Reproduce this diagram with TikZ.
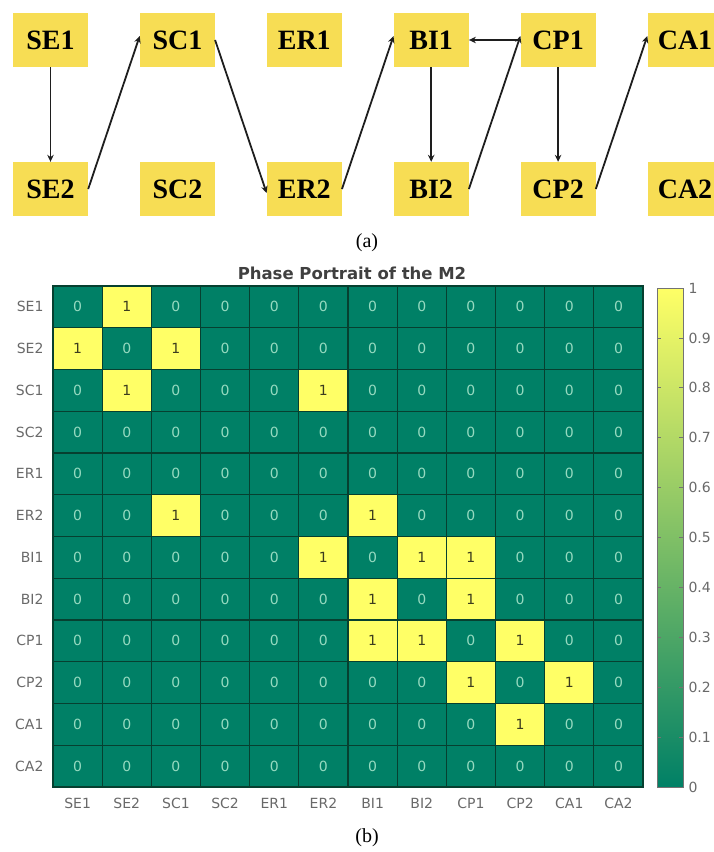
\documentclass[tikz,border=0pt]{standalone}
\usepackage{fontspec}
\setmainfont{Liberation Serif}
\newfontfamily\plotfont{DejaVu Sans}
\usetikzlibrary{arrows.meta}
\definecolor{boxyellow}{RGB}{247,221,84}
\definecolor{summerlo}{RGB}{0,128,102}
\definecolor{summerhi}{RGB}{255,255,102}
\definecolor{gridline}{RGB}{6,64,48}
\definecolor{zerotext}{RGB}{150,218,192}
\definecolor{onetext}{RGB}{60,60,30}
\definecolor{axistext}{RGB}{105,105,105}
\definecolor{arrowcol}{RGB}{30,30,30}

\begin{document}
\begin{tikzpicture}[x=1pt,y=-1pt,
  state/.style={fill=boxyellow, minimum width=75pt, minimum height=54pt,
    inner sep=0pt, font=\fontsize{28}{28}\selectfont\bfseries},
  link/.style={draw=arrowcol, line width=1.8pt,
    -{Stealth[length=7pt,width=6.5pt]}},
  caption/.style={font=\fontsize{20}{20}\selectfont},
  plottext/.style={font=\plotfont\fontsize{14}{14}\selectfont},
  ticklabel/.style={plottext, text=axistext},
]
\useasboundingbox (0,0) rectangle (714,852);
\clip (0,0) rectangle (714,852);

% ---- (a) state transition graph ----
\foreach \name [count=\i from 0] in {SE,SC,ER,BI,CP,CA} {
  \node[state] (\name1) at ({50.5+126.9*\i},40) {\name1};
  \node[state] (\name2) at ({50.5+126.9*\i},189) {\name2};
}
\draw[link] (SE1.south) -- (SE2.north);
\draw[link] (SE2.east) -- ([yshift=4pt]SC1.west);
\draw[link] (SC1.east) -- ([yshift=-4pt]ER2.west);
\draw[link] (ER2.east) -- ([yshift=4pt]BI1.west);
\draw[link] (CP1.west) -- (BI1.east);
\draw[link] (BI1.south) -- (BI2.north);
\draw[link] (BI2.east) -- ([yshift=4pt]CP1.west);
\draw[link] (CP1.south) -- (CP2.north);
\draw[link] (CP2.east) -- ([yshift=4pt]CA1.west);
\node[caption] (capa) at (367,243) {(a)};

% ---- (b) phase portrait heat map ----
\def\cw{49.17}
\def\ch{41.75}
\node[font=\plotfont\bfseries\fontsize{16.5}{16.5}\selectfont, text=black!75]
  (title) at (352,273) {Phase Portrait of the M2};
\fill[summerlo] (53,286) rectangle (643,787);
\foreach \row [count=\r from 0] in {
  {0,1,0,0,0,0,0,0,0,0,0,0},
  {1,0,1,0,0,0,0,0,0,0,0,0},
  {0,1,0,0,0,1,0,0,0,0,0,0},
  {0,0,0,0,0,0,0,0,0,0,0,0},
  {0,0,0,0,0,0,0,0,0,0,0,0},
  {0,0,1,0,0,0,1,0,0,0,0,0},
  {0,0,0,0,0,1,0,1,1,0,0,0},
  {0,0,0,0,0,0,1,0,1,0,0,0},
  {0,0,0,0,0,0,1,1,0,1,0,0},
  {0,0,0,0,0,0,0,0,1,0,1,0},
  {0,0,0,0,0,0,0,0,0,1,0,0},
  {0,0,0,0,0,0,0,0,0,0,0,0}} {
  \foreach \v [count=\c from 0] in \row {
    \ifnum\v=1
      \fill[summerhi] ({53+\c*\cw},{286+\r*\ch}) rectangle ++(\cw,\ch);
      \node[plottext, text=onetext] at ({53+(\c+0.5)*\cw},{286+(\r+0.5)*\ch}) {1};
    \else
      \node[plottext, text=zerotext] at ({53+(\c+0.5)*\cw},{286+(\r+0.5)*\ch}) {0};
    \fi
  }
}
\foreach \k in {1,...,11} {
  \draw[gridline, line width=1.1pt] ({53+\k*\cw},286) -- ({53+\k*\cw},787);
  \draw[gridline, line width=1.1pt] (53,{286+\k*\ch}) -- (643,{286+\k*\ch});
}
\draw[gridline, line width=1.1pt] (53,286) rectangle (643,787);
\foreach \lab [count=\i from 0] in {SE1,SE2,SC1,SC2,ER1,ER2,BI1,BI2,CP1,CP2,CA1,CA2} {
  \node[ticklabel, anchor=east] at (47,{286+(\i+0.5)*\ch}) {\lab};
  \node[ticklabel] at ({53+(\i+0.5)*\cw},803) {\lab};
}

% colour bar
\shade[bottom color=summerlo, top color=summerhi] (657,288) rectangle (683,787);
\draw[black!55, line width=0.7pt] (657,288) rectangle (683,787);
\foreach \v in {0,...,10} {
  \draw[black!55, line width=0.7pt] (683,{787-\v*49.9}) -- (679,{787-\v*49.9});
  \draw[black!55, line width=0.7pt] (657,{787-\v*49.9}) -- (661,{787-\v*49.9});
}
\foreach \v/\t in {0/0,1/0.1,2/0.2,3/0.3,4/0.4,5/0.5,6/0.6,7/0.7,8/0.8,9/0.9,10/1}
  \node[ticklabel, anchor=west] at (685,{787-\v*49.9}) {\t};
\node[caption] (capb) at (367,838) {(b)};
\end{tikzpicture}
\end{document}
